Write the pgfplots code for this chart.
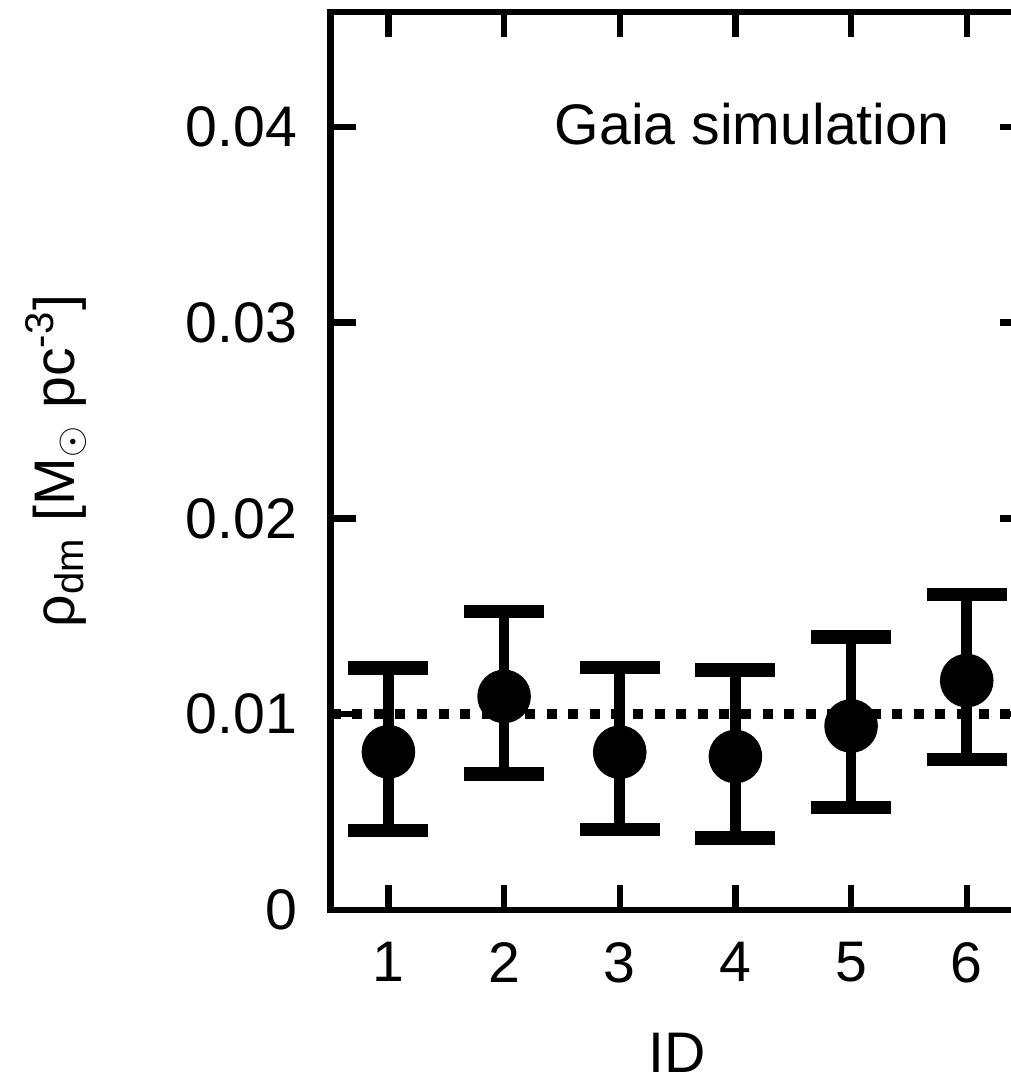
\documentclass[border=0pt]{standalone}
\usepackage{pgfplots}
\pgfplotsset{compat=1.18}
\usepackage{pgfplotstable}
\usepackage{fontspec}
\setmainfont{Liberation Sans}

% ID, density, upper and lower error
\pgfplotstableread{
id  rho      ep       em
1   0.00808  0.00428  0.00403
2   0.01091  0.00435  0.00396
3   0.00806  0.00434  0.00393
4   0.00784  0.00442  0.00416
5   0.00940  0.00455  0.00417
6   0.01172  0.00441  0.00403
}\rhotable

\begin{document}
\begin{tikzpicture}
\begin{axis}[
  scale only axis, width=173.5bp, height=224.5bp,
  xmin=0.5, xmax=6.5, ymin=0, ymax=0.04587,
  axis line style={line width=1.6bp},
  every tick/.style={black, line width=1.6bp},
  major tick length=6.25bp,
  tick align=inside,
  xtick={1,...,6}, xticklabels={1,2,3,4,5,6},
  ytick={0,0.01,0.02,0.03,0.04}, yticklabels={0,0.01,0.02,0.03,0.04},
  scaled y ticks=false,
  font=\fontsize{14.3bp}{17bp}\selectfont,
  yticklabel style={xshift=-4.85bp},
  xticklabel style={yshift=-4.5bp},
  xlabel={ID},
  xlabel style={at={(axis description cs:0.5,0)}, anchor=base, inner sep=0pt, yshift=-40.5bp},
  ylabel={ρ\textsubscript{dm} [M\textsubscript{$\odot$} pc\textsuperscript{-3}]},
  ylabel style={at={(axis description cs:-0.396,0.5)}, anchor=center},
  clip=false,
]
\coordinate (bl) at (rel axis cs:0,0);
\coordinate (tr) at (rel axis cs:1,1);
% reference density
\addplot[black, line width=2.5bp, dash pattern=on 2.5bp off 2.9bp]
  coordinates {(0.5,0.01) (6.5,0.01)};
\addplot[black, only marks, mark=*, mark size=6.5bp,
  error bars/.cd, y dir=both, y explicit,
  error bar style={line width=2.7bp},
  error mark options={rotate=90, line width=3.3bp, mark size=10bp}]
  table[x=id, y=rho, y error plus=ep, y error minus=em] {\rhotable};
\node[anchor=base east, inner sep=0pt] at (axis cs:5.855,0.03908) {Gaia simulation};
\end{axis}
\pgfresetboundingbox
\useasboundingbox ([xshift=-82.65bp,yshift=-42.75bp]bl) rectangle ([xshift=-3.4bp,yshift=3bp]tr);
\end{tikzpicture}
\end{document}
